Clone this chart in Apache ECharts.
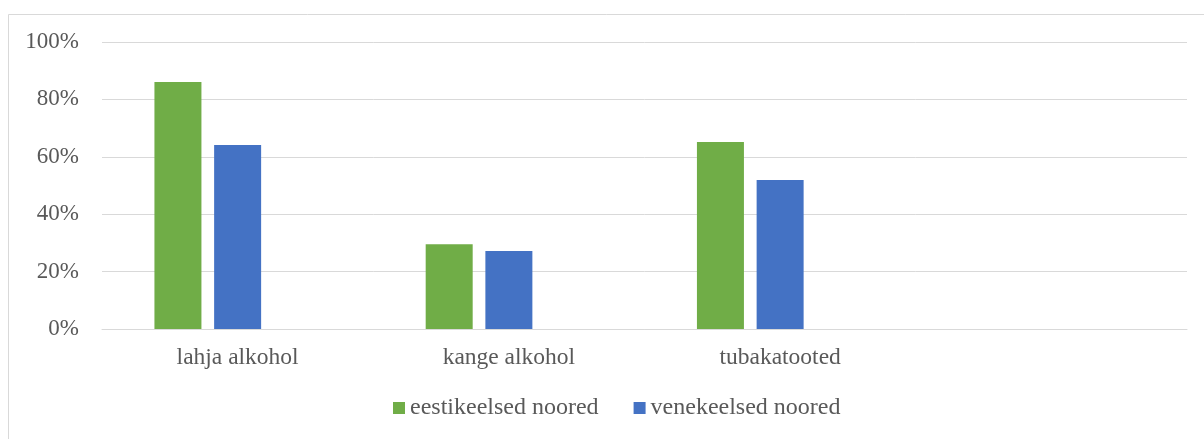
<!DOCTYPE html>
<html><head><meta charset="utf-8">
<script src="https://cdn.jsdelivr.net/npm/echarts@6/dist/echarts.min.js"></script>
<style>html,body{margin:0;padding:0;background:#fff}#c{width:1204px;height:439px}</style>
</head><body><div id="c"></div>
<script>
const categories = ['lahja alkohol', 'kange alkohol', 'tubakatooted', ''];
const seriesNames = ['eestikeelsed noored', 'venekeelsed noored'];
const eestiValues = [86.1, 29.5, 65.2, null];
const veneValues = [64.1, 27.2, 51.9, null];
const emptyValues = [null, null, null, null];
const yTicks = [0, 20, 40, 60, 80, 100];

const font = '"Liberation Serif", "Times New Roman", serif';
const chart = echarts.init(document.getElementById('c'), null, {renderer: 'canvas'});
chart.setOption({
  animation: false,
  backgroundColor: '#fff',
  graphic: [{
    type: 'rect', left: 6, top: 12, shape: {width: 1210, height: 440},
    style: {fill: 'none', stroke: '#d9d9d9', lineWidth: 1}, silent: true
  }],
  grid: {left: 102, right: 17, top: 42, bottom: 110, containLabel: false},
  legend: {
    data: seriesNames, bottom: 14, left: 388, itemWidth: 12, itemHeight: 12, itemGap: 35,
    icon: 'rect', textStyle: {fontFamily: font, fontSize: 24, color: '#595959'}
  },
  xAxis: {
    type: 'category', data: categories,
    axisLine: {lineStyle: {color: '#d9d9d9', width: 1}}, axisTick: {show: false},
    axisLabel: {fontFamily: font, fontSize: 23.5, color: '#595959', margin: 17, interval: 0}
  },
  yAxis: {
    type: 'value', min: yTicks[0], max: yTicks[yTicks.length - 1], interval: 20,
    axisLine: {show: false}, axisTick: {show: false},
    splitLine: {lineStyle: {color: '#d9d9d9', width: 1}},
    axisLabel: {fontFamily: font, fontSize: 23, color: '#595959', margin: 23, formatter: v => v + '%'}
  },
  series: [
    {name: seriesNames[0], type: 'bar', data: eestiValues, barWidth: 47, barGap: '27%',
     itemStyle: {color: '#70ad47'}},
    {name: seriesNames[1], type: 'bar', data: veneValues, barWidth: 47, barGap: '27%',
     itemStyle: {color: '#4472c4'}},
    {name: 'empty', type: 'bar', data: emptyValues, barWidth: 47, barGap: '27%',
     itemStyle: {color: '#a5a5a5'}}
  ]
});
</script></body></html>
